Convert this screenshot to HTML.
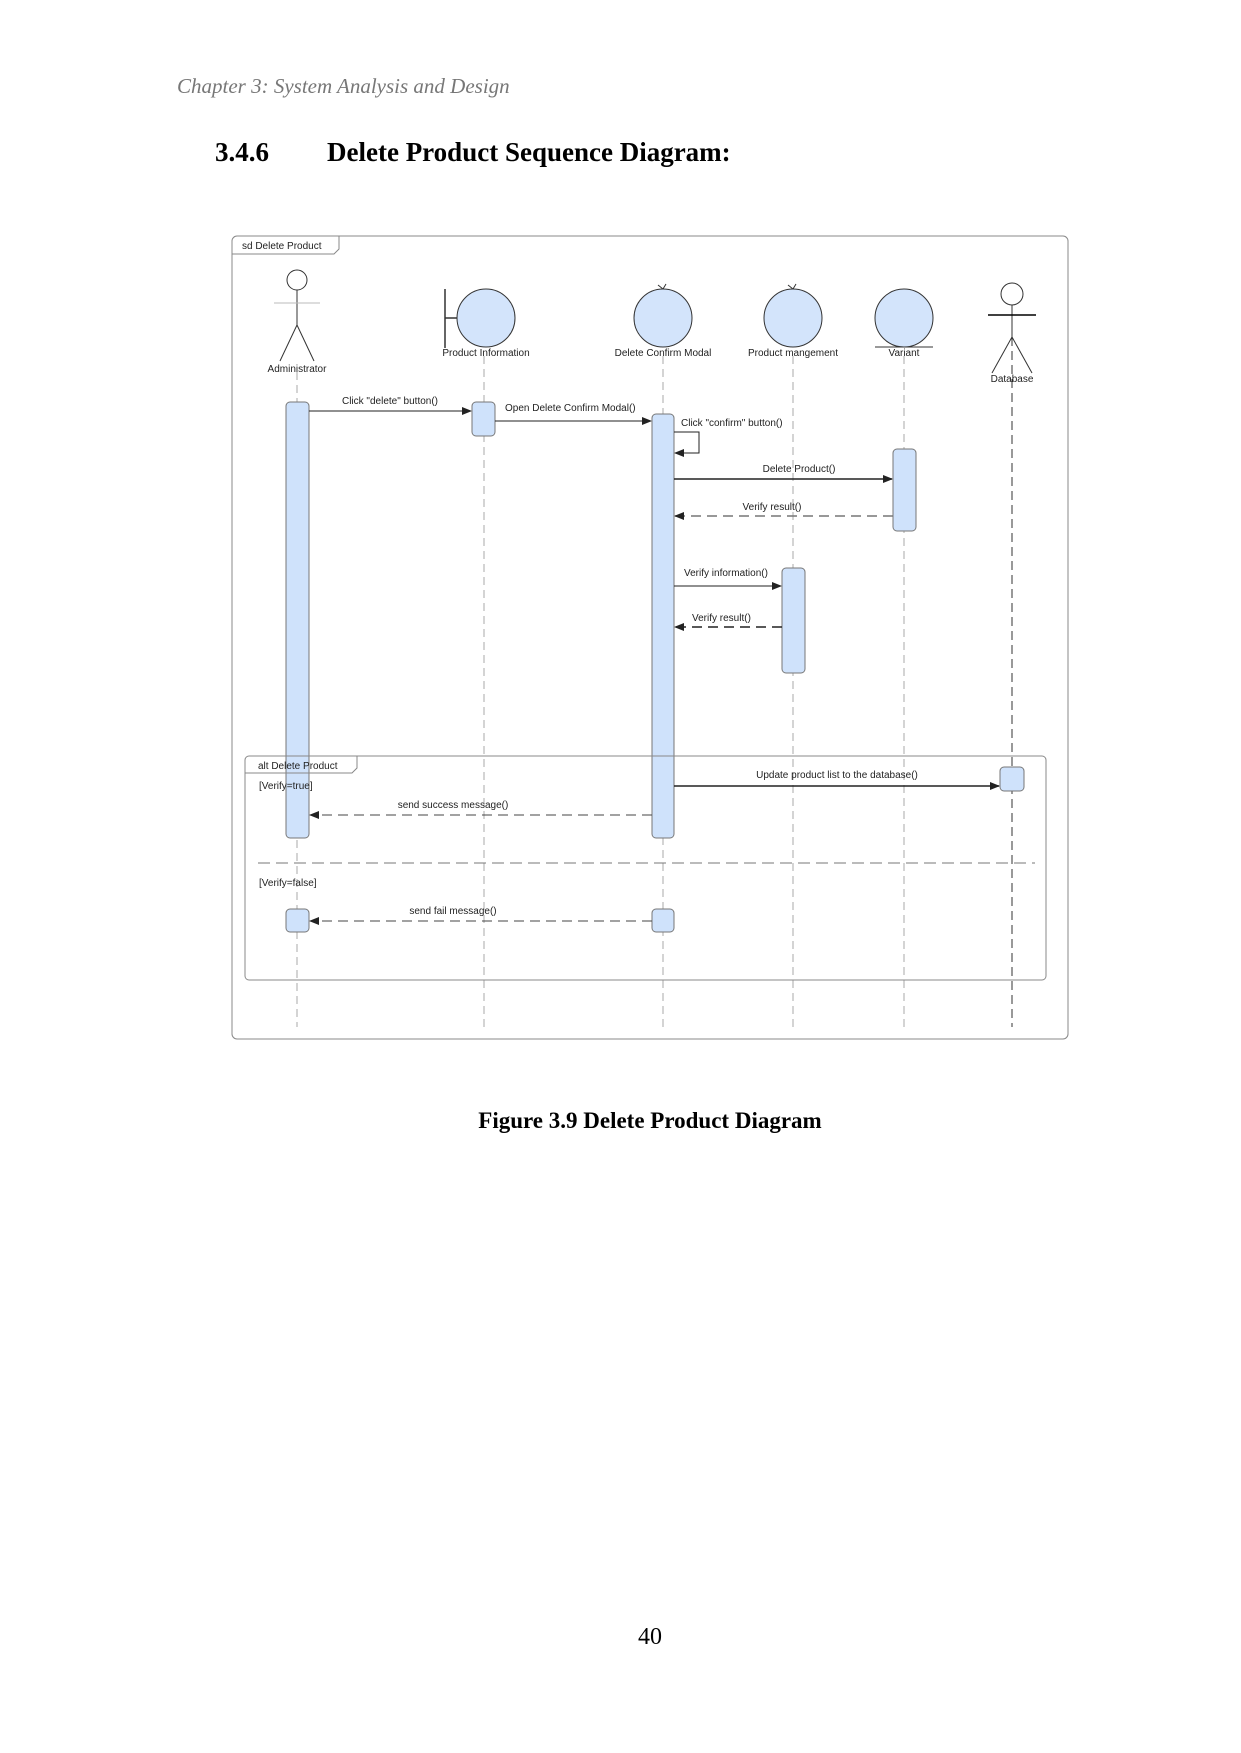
<!DOCTYPE html>
<html><head><meta charset="utf-8"><style>
body{margin:0;background:#fff;width:1241px;height:1753px;position:relative;overflow:hidden}
.t{position:absolute;white-space:nowrap}
</style></head><body>
<div class="t" style="left:177px;top:74px;font:italic 21px 'Liberation Serif',serif;color:#777">Chapter 3: System Analysis and Design</div>
<div class="t" style="left:215px;top:137px;font:bold 27px 'Liberation Serif',serif;color:#000">3.4.6</div>
<div class="t" style="left:327px;top:137px;font:bold 27px 'Liberation Serif',serif;color:#000">Delete Product Sequence Diagram:</div>
<svg width="1241" height="1753" style="position:absolute;left:0;top:0" font-family="Liberation Sans, sans-serif" font-size="10" fill="#222">
<defs>
<marker id="a" markerWidth="10" markerHeight="8" refX="9" refY="4" orient="auto" markerUnits="userSpaceOnUse"><path d="M0,0 L10,4 L0,8 z" fill="#222"/></marker>
</defs>
<rect x="232" y="236" width="836" height="803" rx="5" fill="none" stroke="#888"/>
<path d="M232,254 H334 L339,249 V236" fill="none" stroke="#888"/>
<text x="242" y="249" font-size="10">sd Delete Product</text>
<g stroke="#aaa" stroke-dasharray="8,5" stroke-width="1">
<line x1="297" y1="372" x2="297" y2="1027"/>
<line x1="484" y1="356" x2="484" y2="1027"/>
<line x1="663" y1="356" x2="663" y2="1027"/>
<line x1="793" y1="356" x2="793" y2="1027"/>
<line x1="904" y1="356" x2="904" y2="1027"/>
</g>
<line x1="1012" y1="337" x2="1012" y2="1027" stroke="#333" stroke-dasharray="9,5"/>
<g stroke="#333" fill="none">
<circle cx="297" cy="280" r="10" fill="#fff"/>
<line x1="297" y1="290" x2="297" y2="325"/>
<line x1="274" y1="303" x2="320" y2="303" stroke="#bbb"/>
<line x1="297" y1="325" x2="280" y2="361"/><line x1="297" y1="325" x2="314" y2="361"/>
</g>
<text x="297" y="372" text-anchor="middle">Administrator</text>
<g stroke="#333" fill="none">
<circle cx="1012" cy="294" r="11" fill="#fff"/>
<line x1="1012" y1="305" x2="1012" y2="337"/>
<line x1="988" y1="315" x2="1036" y2="315" stroke="#000" stroke-width="1.5"/>
<line x1="1012" y1="337" x2="992" y2="373"/><line x1="1012" y1="337" x2="1032" y2="373"/>
</g>
<text x="1012" y="382" text-anchor="middle">Database</text>
<g fill="#d3e4fb" stroke="#333">
<circle cx="486" cy="318" r="29"/>
<circle cx="663" cy="318" r="29"/>
<circle cx="793" cy="318" r="29"/>
<circle cx="904" cy="318" r="29"/>
</g>
<line x1="445" y1="289" x2="445" y2="348" stroke="#333" stroke-width="1.5"/>
<line x1="445" y1="318" x2="457" y2="318" stroke="#333" stroke-width="1.5"/>
<path d="M663,289 l-5,-4 M663,289 l3,-5" stroke="#333" fill="none"/>
<path d="M793,289 l-5,-4 M793,289 l3,-5" stroke="#333" fill="none"/>
<line x1="875" y1="347" x2="933" y2="347" stroke="#333"/>
<text x="486" y="356" text-anchor="middle">Product Information</text>
<text x="663" y="356" text-anchor="middle">Delete Confirm Modal</text>
<text x="793" y="356" text-anchor="middle">Product mangement</text>
<text x="904" y="356" text-anchor="middle">Variant</text>
<g fill="#cfe2fb" stroke="#777">
<rect x="286" y="402" width="23" height="436" rx="4"/>
<rect x="472" y="402" width="23" height="34" rx="4"/>
<rect x="652" y="414" width="22" height="424" rx="4"/>
<rect x="893" y="449" width="23" height="82" rx="4"/>
<rect x="782" y="568" width="23" height="105" rx="4"/>
<rect x="1000" y="767" width="24" height="24" rx="4"/>
<rect x="286" y="909" width="23" height="23" rx="4"/>
<rect x="652" y="909" width="22" height="23" rx="4"/>
</g>
<g stroke="#222" fill="none">
<line x1="309" y1="411" x2="471" y2="411" marker-end="url(#a)"/>
<line x1="495" y1="421" x2="651" y2="421" marker-end="url(#a)"/>
<path d="M674,432 H699 V453 H675" marker-end="url(#a)"/>
<line x1="674" y1="479" x2="892" y2="479" marker-end="url(#a)" stroke-width="1.5"/>
<line x1="893" y1="516" x2="675" y2="516" marker-end="url(#a)" stroke="#777" stroke-dasharray="10,6" stroke-width="1.5"/>
<line x1="674" y1="586" x2="781" y2="586" marker-end="url(#a)"/>
<line x1="782" y1="627" x2="675" y2="627" marker-end="url(#a)" stroke-dasharray="10,6" stroke-width="1.5"/>
<line x1="674" y1="786" x2="999" y2="786" marker-end="url(#a)" stroke-width="1.5"/>
<line x1="652" y1="815" x2="310" y2="815" marker-end="url(#a)" stroke="#444" stroke-dasharray="10,6"/>
<line x1="652" y1="921" x2="310" y2="921" marker-end="url(#a)" stroke="#444" stroke-dasharray="10,6"/>
</g>
<text x="390" y="404" text-anchor="middle">Click "delete" button()</text>
<text x="505" y="411">Open Delete Confirm Modal()</text>
<text x="681" y="426">Click "confirm" button()</text>
<text x="799" y="472" text-anchor="middle">Delete Product()</text>
<text x="772" y="510" text-anchor="middle">Verify result()</text>
<text x="684" y="576">Verify information()</text>
<text x="692" y="621">Verify result()</text>
<rect x="245" y="756" width="801" height="224" rx="4" fill="none" stroke="#888"/>
<path d="M245,773 H352 L357,768 V756" fill="none" stroke="#888"/>
<text x="258" y="769">alt Delete Product</text>
<text x="259" y="789">[Verify=true]</text>
<text x="837" y="778" text-anchor="middle">Update product list to the database()</text>
<text x="453" y="808" text-anchor="middle">send success message()</text>
<line x1="258" y1="863" x2="1035" y2="863" stroke="#777" stroke-dasharray="12,6"/>
<text x="259" y="886">[Verify=false]</text>
<text x="453" y="914" text-anchor="middle">send fail message()</text>
</svg>
<div class="t" style="left:0;width:1300px;text-align:center;top:1108px;font:bold 23px 'Liberation Serif',serif">Figure 3.9 Delete Product Diagram</div>
<div class="t" style="left:0;width:1300px;text-align:center;top:1624px;font:24px 'Liberation Serif',serif">40</div>
</body></html>
